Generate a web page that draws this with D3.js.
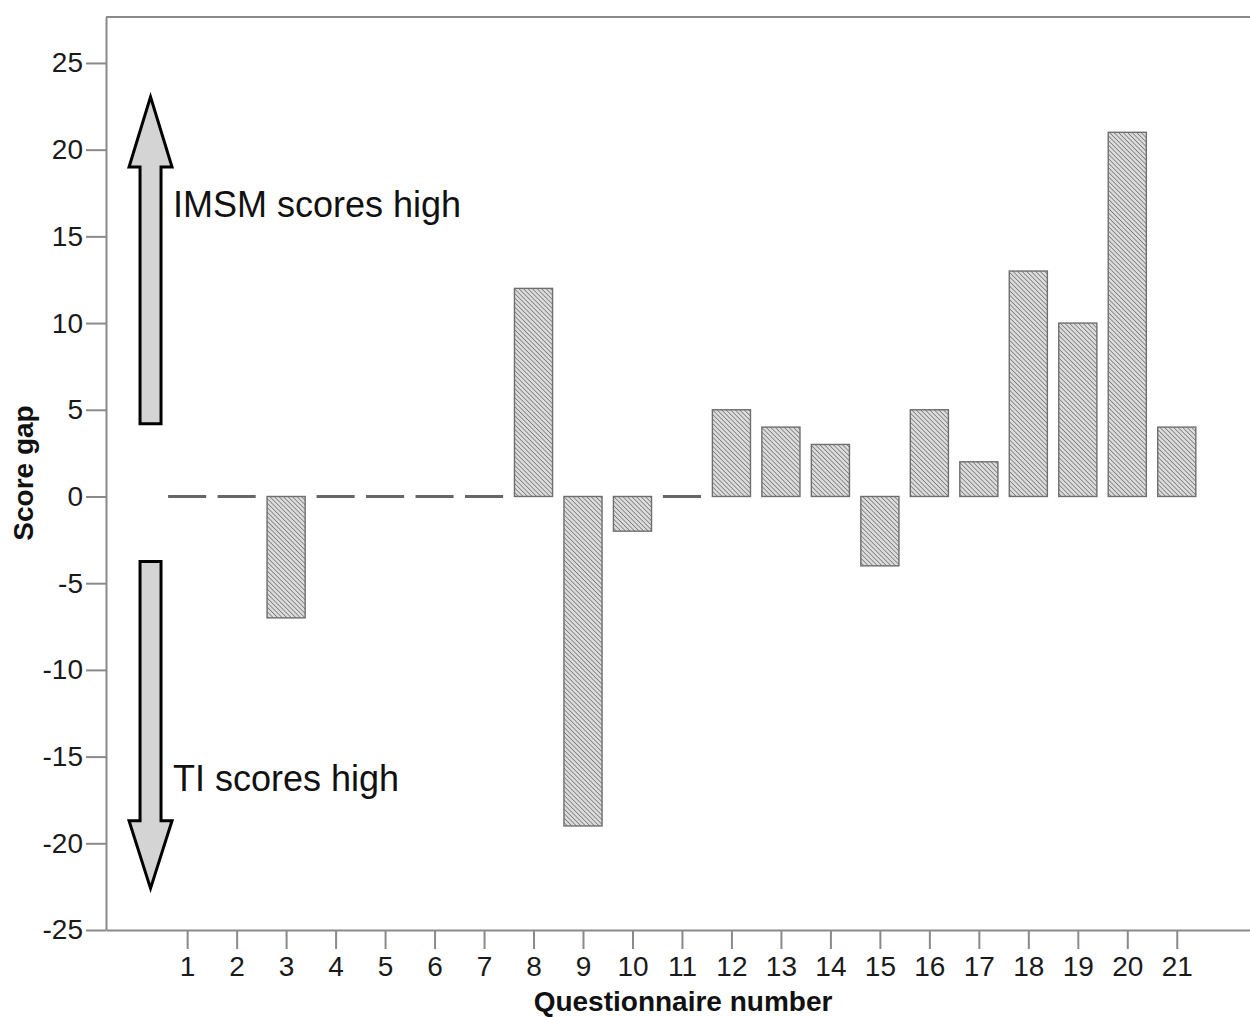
<!DOCTYPE html>
<html lang="en">

<head>
	<meta charset="utf-8">
	<title>Score gap by questionnaire</title>
	<script src="https://cdn.jsdelivr.net/npm/d3@7"></script>
	<style>
		body { margin: 0; background: #fff; }
		svg { display: block; font-family: "Liberation Sans", Arial, sans-serif; }
	</style>
</head>

<body>
	<script>
		// data
		const questions = d3.range(1, 22);
		const scoreGap = [0, 0, -7, 0, 0, 0, 0, 12, -19, -2, 0, 5, 4, 3, -4, 5, 2, 13, 10, 21, 4];
		const yTicks = [-25, -20, -15, -10, -5, 0, 5, 10, 15, 20, 25];

		// arrow annotations, in data units (x pos, tail, head base, tip)
		const arrows = [
			{ x: 0.26, tail: 4.2, base: 19, tip: 23.05, label: "IMSM scores high", ly: 16.1 },
			{ x: 0.26, tail: -3.75, base: -18.7, tip: -22.6, label: "TI scores high", ly: -17.0 }
		];

		const width = 1250, height = 1017;

		const svg = d3.select("body").append("svg")
			.attr("width", width)
			.attr("height", height);

		const x = d3.scaleLinear().domain([-0.64, 22.48]).range([106, 1250]);
		const y = d3.scaleLinear().domain([-25, 27.65]).range([930, 17]);

		const defs = svg.append("defs");
		const pat = defs.append("pattern")
			.attr("id", "hatch")
			.attr("patternUnits", "userSpaceOnUse")
			.attr("width", 3.2)
			.attr("height", 3.2)
			.attr("patternTransform", "rotate(45)");
		pat.append("rect").attr("width", 3.2).attr("height", 3.2).attr("fill", "#dcdcdc");
		pat.append("line")
			.attr("x1", 0).attr("y1", 0).attr("x2", 3.2).attr("y2", 0)
			.attr("stroke", "#7a7a7a").attr("stroke-width", 1.6);

		const axisColor = "#8a8a8a";

		// frame top line
		svg.append("line")
			.attr("x1", x.range()[0]).attr("x2", width)
			.attr("y1", y.range()[1]).attr("y2", y.range()[1])
			.attr("stroke", axisColor).attr("stroke-width", 2);

		// y axis (plain hyphen for negatives, like the original)
		const yAxis = svg.append("g")
			.attr("transform", `translate(${x.range()[0]},0)`)
			.call(d3.axisLeft(y).tickValues(yTicks).tickFormat(d => String(d))
				.tickSize(20).tickSizeOuter(0).tickPadding(3));

		// x axis
		const xAxis = svg.append("g")
			.attr("transform", `translate(0,${y.range()[0]})`)
			.call(d3.axisBottom(x).tickValues(questions).tickFormat(d => String(d))
				.tickSize(19).tickSizeOuter(0).tickPadding(6));

		[yAxis, xAxis].forEach(g => {
			g.select(".domain").attr("stroke", axisColor).attr("stroke-width", 2);
			g.selectAll(".tick line").attr("stroke", axisColor).attr("stroke-width", 2);
			g.selectAll(".tick text")
				.attr("fill", "#1a1a1a")
				.style("font-size", "28px")
				.style("font-family", "'Liberation Sans', Arial, sans-serif");
		});
		xAxis.selectAll(".tick text").attr("dy", "0.76em");

		// bars
		const bw = (x(1) - x(0)) * 0.77;
		const data = questions.map((q, i) => ({ q: q, v: scoreGap[i] }));

		svg.selectAll("rect.bar")
			.data(data.filter(d => d.v !== 0))
			.enter().append("rect")
			.attr("class", "bar")
			.attr("x", d => x(d.q) - bw / 2)
			.attr("y", d => y(Math.max(0, d.v)))
			.attr("width", bw)
			.attr("height", d => Math.abs(y(d.v) - y(0)))
			.attr("fill", "url(#hatch)")
			.attr("stroke", "#6e6e6e")
			.attr("stroke-width", 1.4);

		// zero bars show up as flat lines
		svg.selectAll("line.zero")
			.data(data.filter(d => d.v === 0))
			.enter().append("line")
			.attr("class", "zero")
			.attr("x1", d => x(d.q) - bw / 2)
			.attr("x2", d => x(d.q) + bw / 2)
			.attr("y1", y(0)).attr("y2", y(0))
			.attr("stroke", "#666").attr("stroke-width", 3);

		// arrows
		const shaftW = 10.5, headW = 21.5;
		svg.selectAll("path.arrow")
			.data(arrows)
			.enter().append("path")
			.attr("class", "arrow")
			.attr("d", d => {
				const cx = x(d.x);
				return `M${cx - shaftW},${y(d.tail)} L${cx - shaftW},${y(d.base)} L${cx - headW},${y(d.base)}`
					+ ` L${cx},${y(d.tip)} L${cx + headW},${y(d.base)} L${cx + shaftW},${y(d.base)} L${cx + shaftW},${y(d.tail)} Z`;
			})
			.attr("fill", "#d4d4d4")
			.attr("stroke", "#000")
			.attr("stroke-width", 3)
			.attr("stroke-linejoin", "miter");

		svg.selectAll("text.note")
			.data(arrows)
			.enter().append("text")
			.attr("class", "note")
			.attr("x", x(0.714))
			.attr("y", d => y(d.ly))
			.attr("fill", "#111")
			.style("font-size", "36px")
			.text(d => d.label);

		// axis titles
		svg.append("text")
			.attr("x", 683)
			.attr("y", 1011)
			.attr("text-anchor", "middle")
			.style("font-size", "28px")
			.style("font-weight", "bold")
			.attr("fill", "#111")
			.text("Questionnaire number");

		svg.append("text")
			.attr("transform", "translate(33,473) rotate(-90)")
			.attr("text-anchor", "middle")
			.style("font-size", "28px")
			.style("font-weight", "bold")
			.attr("fill", "#111")
			.text("Score gap");
	</script>
</body>

</html>
